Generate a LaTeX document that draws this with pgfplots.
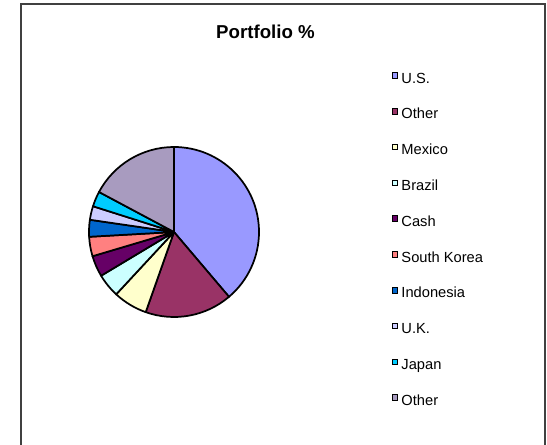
\documentclass[border=0pt]{standalone}
\usepackage{pgfplots}
\pgfplotsset{compat=1.18}
\usepackage{pgfplotstable}
\usepackage{fontspec}
\setmainfont{Liberation Sans}

\definecolor{cUS}{HTML}{9999FF}
\definecolor{cOther}{HTML}{993366}
\definecolor{cMexico}{HTML}{FFFFCC}
\definecolor{cBrazil}{HTML}{CCFFFF}
\definecolor{cCash}{HTML}{660066}
\definecolor{cKorea}{HTML}{FF8080}
\definecolor{cIndonesia}{HTML}{0066CC}
\definecolor{cUK}{HTML}{CCCCFF}
\definecolor{cJapan}{HTML}{00CCFF}
\definecolor{cOtherB}{HTML}{A89BBF}

% portfolio shares in percent, clockwise from 12 o'clock
\pgfplotstableread{
name value col
U.S. 38.8 cUS
Other 16.6 cOther
Mexico 6.5 cMexico
Brazil 4.5 cBrazil
Cash 4.0 cCash
{South Korea} 3.7 cKorea
Indonesia 3.2 cIndonesia
U.K. 2.6 cUK
Japan 2.9 cJapan
Other 17.2 cOtherB
}\piedata

\begin{document}
\begin{tikzpicture}
\begin{scope}[x=0.75pt,y=-0.75pt]
  \draw[black!75, line width=1pt] (21,445) -- (21,4) -- (545,4) -- (545,445);
  \node[anchor=base, font=\fontsize{14}{16}\selectfont\bfseries] at (265.5,38.5) {Portfolio \%};
  \coordinate (piec) at (174,232);
\end{scope}
\begin{axis}[
    at={(piec)}, anchor=center,
    x=63.75pt, y=63.75pt,
    xmin=-1.1, xmax=1.1, ymin=-1.1, ymax=1.1,
    hide axis,
    clip=false,
    legend style={draw=none, fill=none, at={(axis description cs:1.664,1.357)}, anchor=north west,
        font=\fontsize{11}{13}\selectfont, inner sep=0pt, outer sep=0pt,
        row sep=16.35pt, column sep=2.4pt,
        nodes={inner sep=0pt, text height=8.5pt, text depth=2pt}},
    legend cell align=left,
    legend image code/.code={\draw[#1, line width=0.75pt] (0.4pt,0.3pt) rectangle (4.6pt,4.5pt);},
]
\pgfplotstablegetrowsof{\piedata}
\pgfmathtruncatemacro\nrows{\pgfplotsretval-1}
\def\cum{0}
\pgfplotsforeachungrouped \i in {0,...,\nrows}{
  \pgfplotstablegetelem{\i}{value}\of\piedata \let\v\pgfplotsretval
  \pgfplotstablegetelem{\i}{col}\of\piedata \let\c\pgfplotsretval
  \pgfplotstablegetelem{\i}{name}\of\piedata \let\n\pgfplotsretval
  \pgfmathsetmacro\a{90-3.6*\cum}
  \pgfmathsetmacro\b{90-3.6*(\cum+\v)}
  \pgfmathsetmacro\cum{\cum+\v}
  \edef\temp{\noexpand\filldraw[fill=\c, draw=black, line width=1.3pt, line join=round]
      (axis cs:0,0) -- (axis cs:{cos(\a)},{sin(\a)}) arc[start angle=\a, end angle=\b, radius=63.75pt] -- cycle;
    \noexpand\addlegendimage{fill=\c, draw=black}
    \noexpand\addlegendentry{\n}}
  \temp
}
\end{axis}
\pgfresetboundingbox
\begin{scope}[x=0.75pt,y=-0.75pt]
  \path[use as bounding box] (0,0) rectangle (547,445);
\end{scope}
\end{tikzpicture}
\end{document}
